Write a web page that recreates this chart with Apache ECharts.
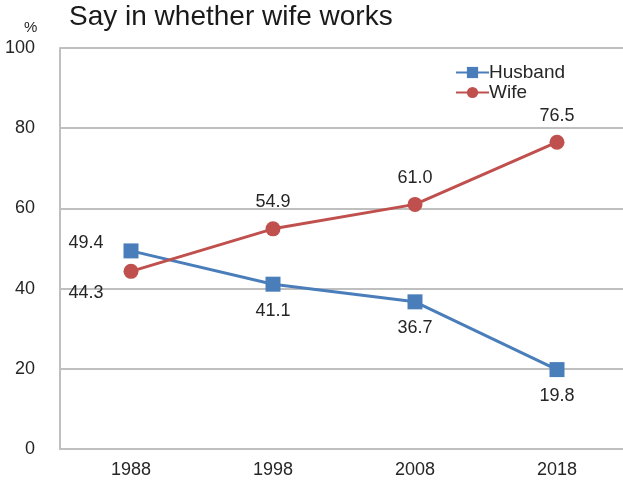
<!DOCTYPE html>
<html><head><meta charset="utf-8">
<script src="https://cdn.jsdelivr.net/npm/echarts@6/dist/echarts.min.js"></script>
<style>html,body{margin:0;padding:0;background:#fff}#c{width:623px;height:485px}</style>
</head><body><div id="c"></div>
<script>
const categories = ['1988', '1998', '2008', '2018'];
const husband = [49.4, 41.1, 36.7, 19.8];
const wife = [44.3, 54.9, 61.0, 76.5];
const yTicks = [0, 20, 40, 60, 80, 100];

const chart = echarts.init(document.getElementById('c'));
const font = 'Arial, "Liberation Sans", sans-serif';
const lbl = {show: true, fontSize: 18, color: '#262626', fontFamily: font, formatter: p => p.value.toFixed(1)};
chart.setOption({
  animation: false,
  title: {text: 'Say in whether wife works', left: 64, top: -2, textStyle: {fontSize: 28, fontWeight: 'normal', color: '#1a1a1a', fontFamily: font}},
  graphic: [{type: 'text', left: 24, top: 20, style: {text: '%', fontSize: 15, fill: '#262626', fontFamily: font}}],
  legend: {
    top: 58, left: 450, orient: 'vertical', itemGap: 1, itemWidth: 33, itemHeight: 14,
    textStyle: {fontSize: 19, color: '#262626', fontFamily: font, padding: [0, 0, 0, -5]},
    data: ['Husband', 'Wife']
  },
  grid: {left: 60, width: 568, top: 48, bottom: 36, outerBoundsMode: 'none', containLabel: false},
  xAxis: {
    type: 'category', data: categories, boundaryGap: true,
    axisLine: {show: true, lineStyle: {color: '#bfbfbf', width: 2}},
    axisTick: {show: false},
    axisLabel: {fontSize: 18, color: '#262626', fontFamily: font, margin: 12}
  },
  yAxis: {
    type: 'value', min: yTicks[0], max: yTicks[yTicks.length - 1], interval: 20,
    axisLine: {show: true, lineStyle: {color: '#bfbfbf', width: 2}},
    axisTick: {show: false},
    splitLine: {lineStyle: {color: '#bfbfbf', width: 2}},
    axisLabel: {fontSize: 18, color: '#262626', fontFamily: font, margin: 25, align: 'right'}
  },
  series: [
    {
      name: 'Husband', type: 'line', data: husband.map((v, i) => i === 0 ? {value: v, label: {position: 'left', offset: [-10, -8]}} : v),
      symbol: 'rect', symbolSize: 15, color: '#4a7ebb',
      lineStyle: {width: 3, color: '#4a7ebb'}, itemStyle: {color: '#4a7ebb'},
      label: Object.assign({position: 'bottom', distance: 10}, lbl)
    },
    {
      name: 'Wife', type: 'line', data: wife.map((v, i) => i === 0 ? {value: v, label: {position: 'left', offset: [-10, 22]}} : v),
      symbol: 'circle', symbolSize: 15, color: '#c0504d',
      lineStyle: {width: 3, color: '#c0504d'}, itemStyle: {color: '#c0504d'},
      label: Object.assign({position: 'top', distance: 10}, lbl)
    }
  ]
});
</script></body></html>
